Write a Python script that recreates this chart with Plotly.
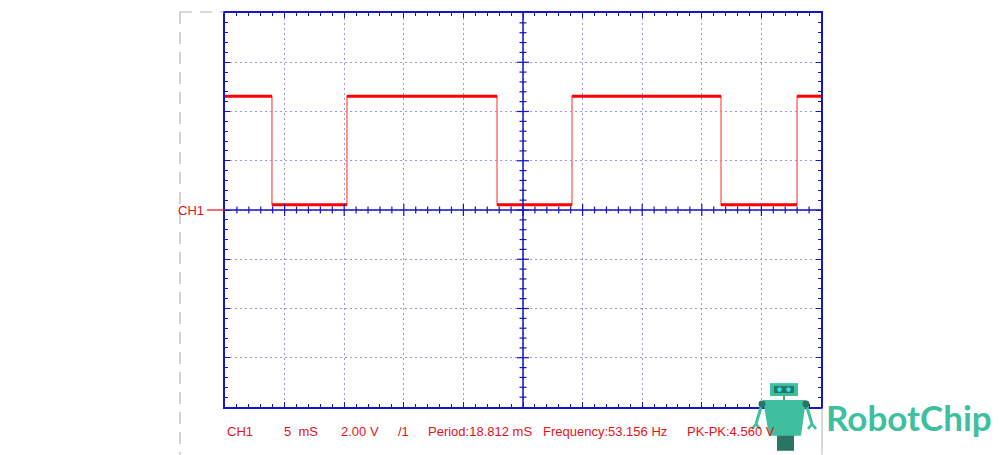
import plotly.graph_objects as go

# ---- data (read from the oscilloscope capture) ----
edge_times_ms = [3.94, 10.23, 22.82, 29.11, 41.61, 47.99]   # alternating fall / rise
high_level_v = 4.62
low_level_v = 0.21
time_span_ms = [0, 50]
volt_span_v = [-8, 8]
info_labels = ["CH1", "5  mS", "2.00 V", "/1", "Period:18.812 mS",
               "Frequency:53.156 Hz", "PK-PK:4.560 V"]
info_x = [0.0, 0.0956, 0.191, 0.287, 0.337, 0.530, 0.772]

# ---- build waveform from edges ----
xs, ys = [time_span_ms[0]], [high_level_v]
level = high_level_v
for t in edge_times_ms:
    xs.append(t); ys.append(level)
    level = low_level_v if level == high_level_v else high_level_v
    xs.append(t); ys.append(level)
xs.append(time_span_ms[1]); ys.append(level)

# horizontal plateaus only (thicker)
hx, hy = [], []
for i in range(0, len(xs), 2):
    hx += [xs[i], xs[i + 1], None]
    hy += [ys[i], ys[i + 1], None]

W, H = 1000, 455
L, R, T, B = 225, 179, 11, 48
pw, ph = W - L - R, H - T - B

BLUE = "#1414c8"
GRID = "#9a9ae4"
RED = "#ff0000"
TXT = "#e8101a"
TEAL = "#3dbfa0"
DARK = "#2a7463"

fig = go.Figure()
fig.add_trace(go.Scatter(x=xs, y=ys, mode="lines",
                         line=dict(color="#ff7070", width=1.5), hoverinfo="skip"))
fig.add_trace(go.Scatter(x=hx, y=hy, mode="lines",
                         line=dict(color=RED, width=3), hoverinfo="skip"))

shapes = []
# center axes
xc = sum(time_span_ms) / 2
shapes.append(dict(type="line", xref="x", yref="y", x0=xc, x1=xc,
                   y0=volt_span_v[0], y1=volt_span_v[1], line=dict(color=BLUE, width=1.5)))
shapes.append(dict(type="line", xref="x", yref="y", x0=time_span_ms[0], x1=time_span_ms[1],
                   y0=0, y1=0, line=dict(color=BLUE, width=1.5)))
# ticks on center axes
vpp = (volt_span_v[1] - volt_span_v[0]) / ph   # volts per pixel
mpp = (time_span_ms[1] - time_span_ms[0]) / pw  # ms per pixel
for k in range(1, 50):
    t = time_span_ms[0] + k * 1.0
    ln = 6 if k % 5 == 0 else 3.5
    shapes.append(dict(type="line", xref="x", yref="y", x0=t, x1=t,
                       y0=-ln * vpp, y1=ln * vpp, line=dict(color=BLUE, width=1.2)))
for k in range(1, 40):
    v = volt_span_v[0] + k * 0.4
    ln = 6 if k % 5 == 0 else 3.5
    shapes.append(dict(type="line", xref="x", yref="y", x0=xc - ln * mpp, x1=xc + ln * mpp,
                       y0=v, y1=v, line=dict(color=BLUE, width=1.2)))

def px(x):
    return (x - L) / pw

def py(y):
    return (H - B - y) / ph

# CH1 marker line on the left
shapes.append(dict(type="line", xref="paper", yref="y", x0=px(207), x1=px(225),
                   y0=0, y1=0, line=dict(color=TXT, width=1.2)))
# gray dashed frame
shapes.append(dict(type="line", xref="paper", yref="paper", x0=px(180), x1=px(180),
                   y0=py(10), y1=py(455), line=dict(color="#b4b4b4", width=1.2, dash="12px,8px")))
shapes.append(dict(type="line", xref="paper", yref="paper", x0=px(180), x1=px(224),
                   y0=py(10), y1=py(10), line=dict(color="#b4b4b4", width=1.2, dash="12px,8px")))
shapes.append(dict(type="line", xref="paper", yref="paper", x0=px(822), x1=px(822),
                   y0=py(408), y1=py(455), line=dict(color="#b4b4b4", width=1)))

# ---- robot logo ----
def rect(x0, y0, x1, y1, color, **kw):
    shapes.append(dict(type="rect", xref="paper", yref="paper", x0=px(x0), x1=px(x1),
                       y0=py(y1), y1=py(y0), fillcolor=color, line=dict(width=0), **kw))

def circ(cx, cy, r, color):
    shapes.append(dict(type="circle", xref="paper", yref="paper", x0=px(cx - r), x1=px(cx + r),
                       y0=py(cy + r), y1=py(cy - r), fillcolor=color, line=dict(width=0)))

def seg(x0, y0, x1, y1, color, w):
    shapes.append(dict(type="line", xref="paper", yref="paper", x0=px(x0), x1=px(x1),
                       y0=py(y0), y1=py(y1), line=dict(color=color, width=w)))

# arms
seg(762, 404, 756, 424, TEAL, 3)
seg(756, 424, 752, 429, TEAL, 2.5)
seg(756, 424, 760, 429, TEAL, 2.5)
seg(806, 404, 812, 424, TEAL, 3)
seg(812, 424, 808, 429, TEAL, 2.5)
seg(812, 424, 816, 429, TEAL, 2.5)
# legs
rect(777, 434, 794, 451, DARK)
# body (trapezoid)
bx = [763, 806, 801, 769]
by = [400, 400, 436, 436]
path = "M {} {} L {} {} L {} {} L {} {} Z".format(
    *sum([[px(a), py(b)] for a, b in zip(bx, by)], []))
shapes.append(dict(type="path", xref="paper", yref="paper", path=path,
                   fillcolor=TEAL, line=dict(width=0)))
# shoulders
circ(762, 404, 3.5, DARK)
circ(806, 404, 3.5, DARK)
# neck
seg(784, 395, 784, 400, DARK, 1.5)
# head
rect(770, 383, 798, 396, TEAL)
rect(774, 386, 794, 393, DARK)
circ(779.5, 389.5, 2.3, "#28e0f0")
circ(788.5, 389.5, 2.3, "#28e0f0")

annotations = []
for lab, xp in zip(info_labels, info_x):
    annotations.append(dict(text=lab, xref="paper", yref="paper", x=xp, y=py(432),
                            xanchor="left", yanchor="middle", showarrow=False,
                            font=dict(family="Liberation Sans, Arial", size=13, color=TXT)))
annotations.append(dict(text="CH1", xref="paper", yref="y", x=px(206), y=0,
                        xanchor="right", yanchor="middle", showarrow=False,
                        font=dict(family="Liberation Sans, Arial", size=13, color=TXT)))
annotations.append(dict(text="<b>RobotChip</b>", xref="paper", yref="paper", x=px(824), y=py(417),
                        xanchor="left", yanchor="middle", showarrow=False,
                        font=dict(family="Lato, Noto Sans", size=35, color=TEAL)))

axis_common = dict(showline=True, linecolor=BLUE, linewidth=1.5, mirror="ticks",
                   ticks="inside", ticklen=5, tickcolor=BLUE, tickwidth=1,
                   showticklabels=False, showgrid=True, gridcolor=GRID, griddash="2px,3px",
                   gridwidth=1.2, zeroline=False, fixedrange=True)

fig.update_layout(
    width=W, height=H,
    margin=dict(l=L, r=R, t=T, b=B),
    paper_bgcolor="white", plot_bgcolor="white",
    showlegend=False,
    xaxis=dict(range=time_span_ms, dtick=5, tick0=0,
               minor=dict(dtick=1, ticks="inside", ticklen=3, tickcolor=BLUE, showgrid=False),
               **axis_common),
    yaxis=dict(range=volt_span_v, dtick=2, tick0=0,
               minor=dict(dtick=0.4, ticks="inside", ticklen=3, tickcolor=BLUE, showgrid=False),
               **axis_common),
    shapes=shapes,
    annotations=annotations,
)

fig.write_html("out.html", config={"displayModeBar": False},
               post_script="document.body.style.margin='0px';")
